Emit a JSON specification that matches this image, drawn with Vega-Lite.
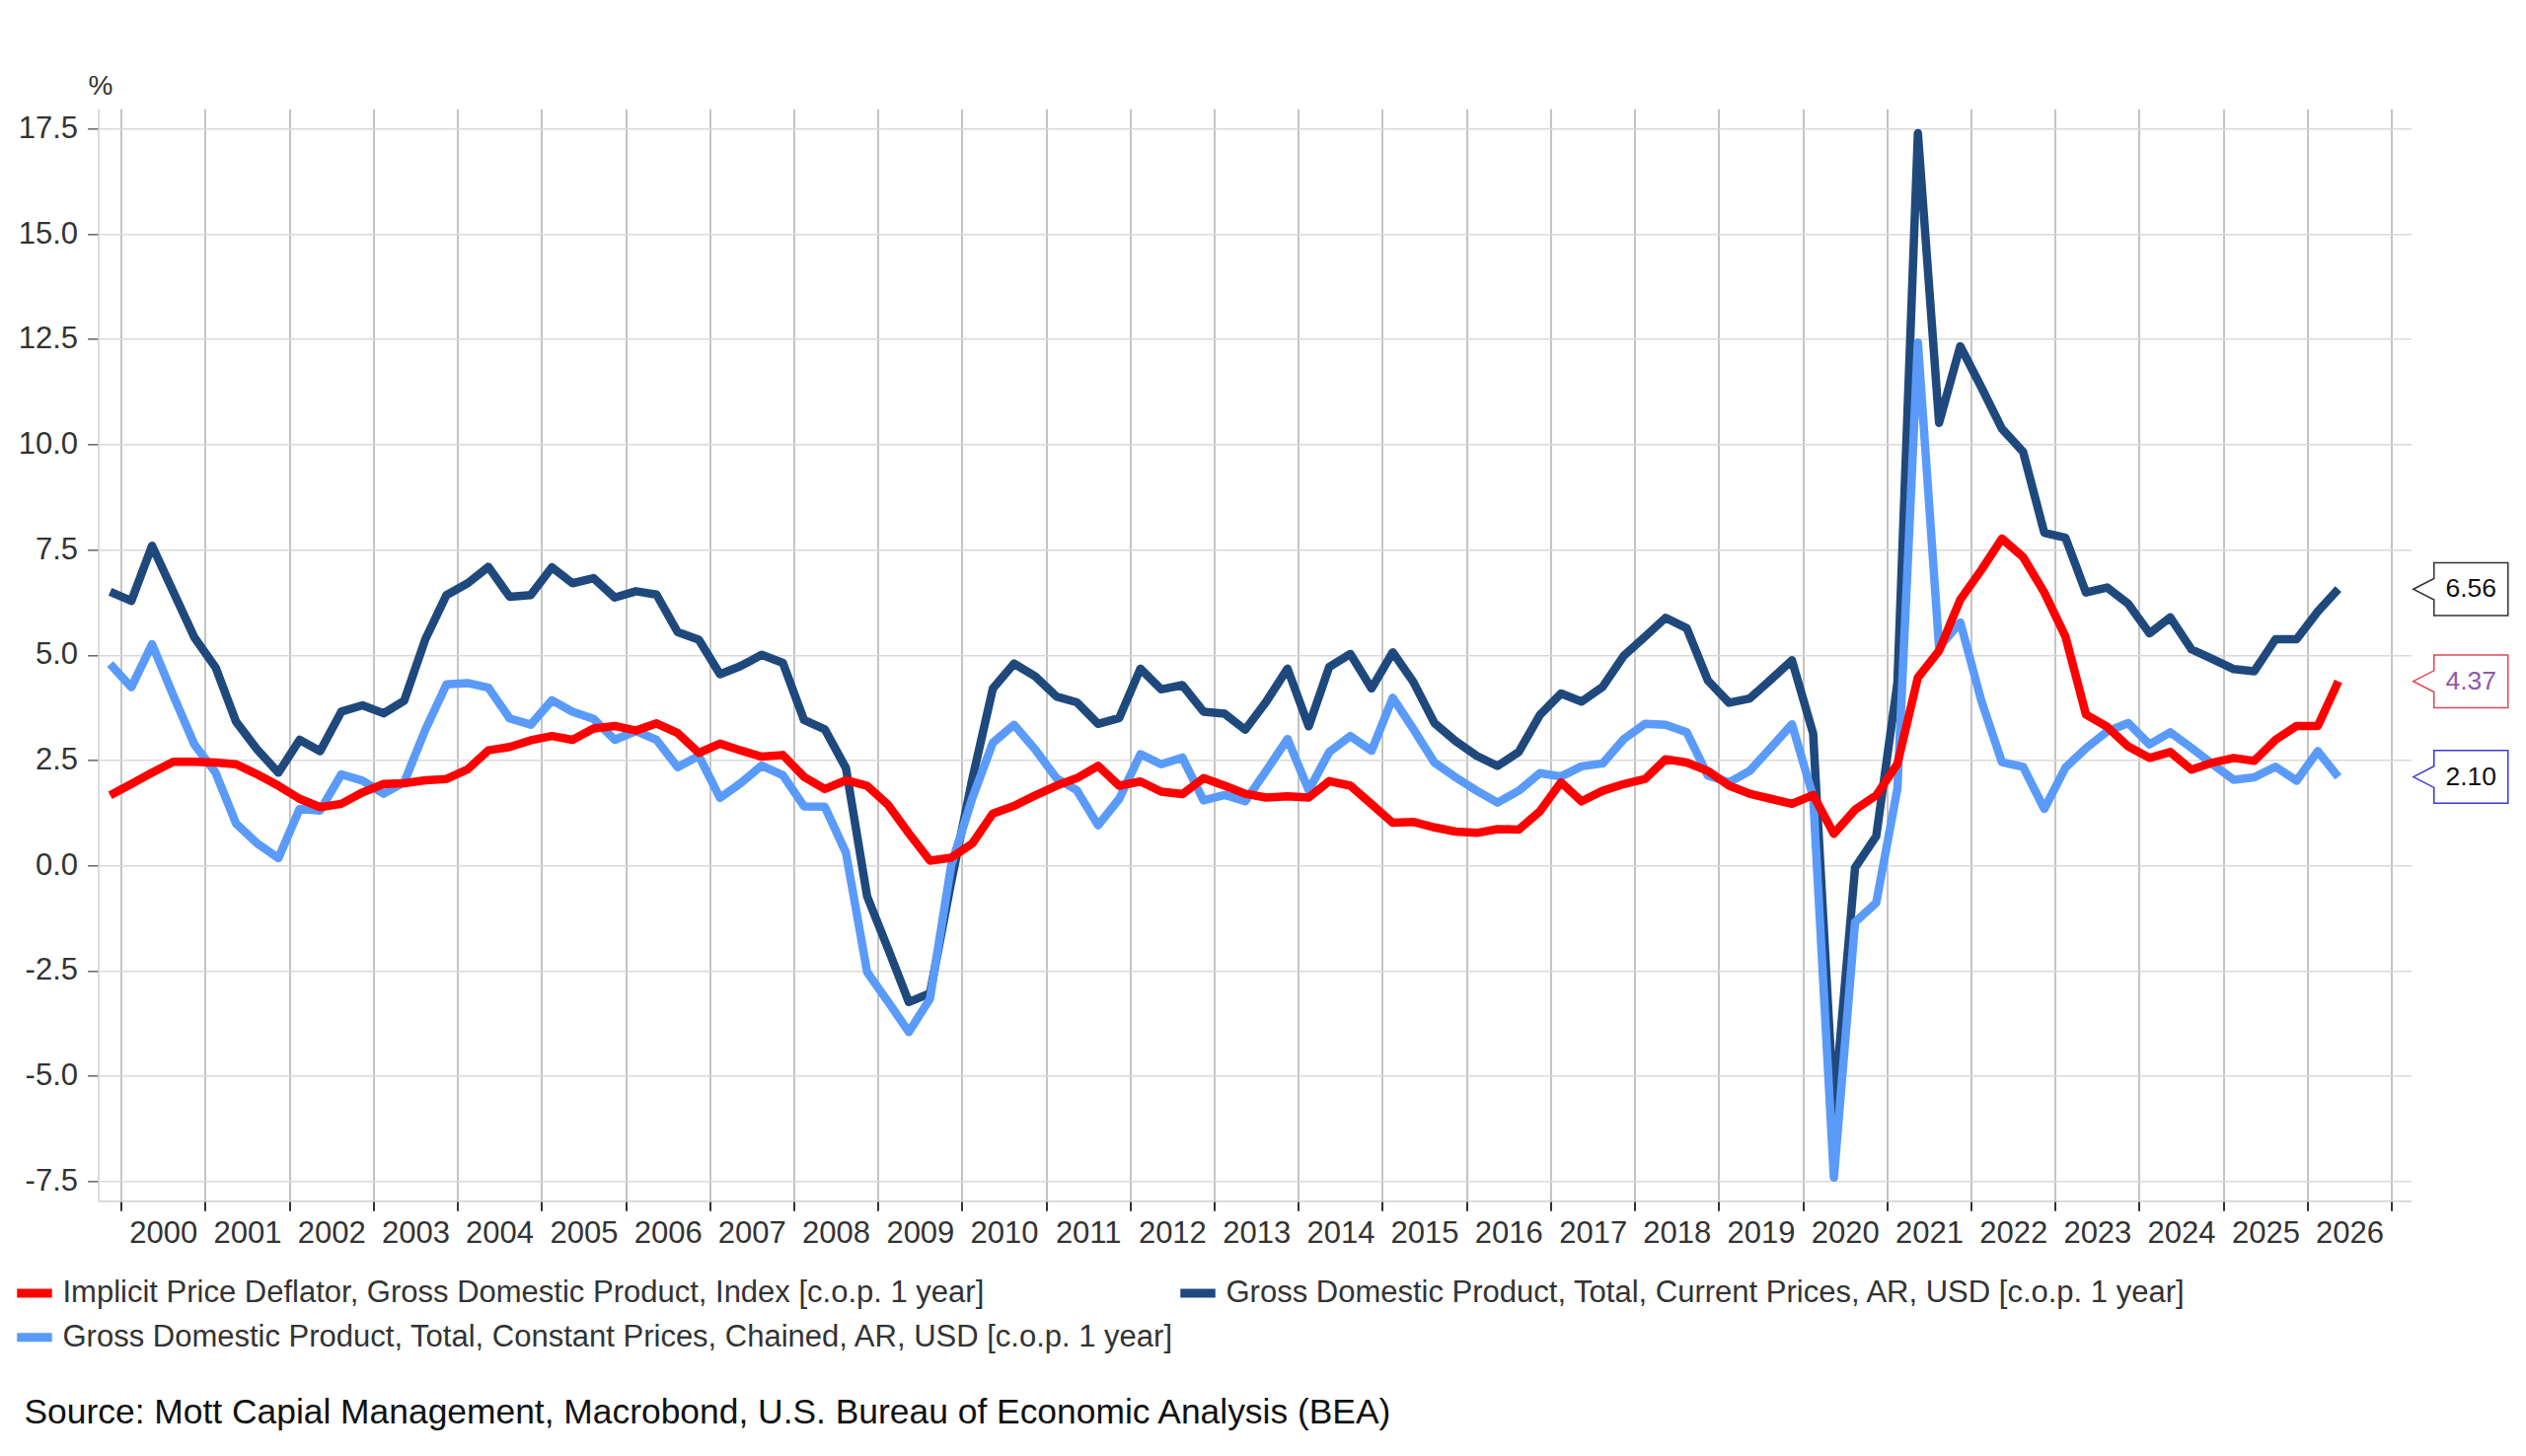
{
  "$schema": "https://vega.github.io/schema/vega-lite/v6.json",
  "width": 2344,
  "height": 1107,
  "autosize": {"type": "none"},
  "padding": {"left": 99.5, "top": 110.3, "right": 116.5, "bottom": 258.7},
  "background": "white",
  "title": {
    "text": "Source: Mott Capial Management, Macrobond, U.S. Bureau of Economic Analysis (BEA)",
    "orient": "bottom",
    "anchor": "start",
    "frame": "group",
    "dx": -75,
    "offset": 41,
    "fontSize": 35.4,
    "fontWeight": "normal",
    "font": "Liberation Sans",
    "color": "#111111"
  },
  "data": {
    "values": [
      {"d": "1999-11-15", "nom": 6.50, "real": 4.78, "defl": 1.66},
      {"d": "2000-02-15", "nom": 6.28, "real": 4.23, "defl": 1.93},
      {"d": "2000-05-15", "nom": 7.59, "real": 5.25, "defl": 2.20},
      {"d": "2000-08-15", "nom": 6.50, "real": 4.04, "defl": 2.46},
      {"d": "2000-11-15", "nom": 5.41, "real": 2.87, "defl": 2.46},
      {"d": "2001-02-15", "nom": 4.70, "real": 2.20, "defl": 2.44},
      {"d": "2001-05-15", "nom": 3.41, "real": 0.99, "defl": 2.40},
      {"d": "2001-08-15", "nom": 2.75, "real": 0.52, "defl": 2.16},
      {"d": "2001-11-15", "nom": 2.20, "real": 0.17, "defl": 1.89},
      {"d": "2002-02-15", "nom": 2.98, "real": 1.34, "defl": 1.58},
      {"d": "2002-05-15", "nom": 2.71, "real": 1.30, "defl": 1.38},
      {"d": "2002-08-15", "nom": 3.65, "real": 2.16, "defl": 1.46},
      {"d": "2002-11-15", "nom": 3.80, "real": 2.01, "defl": 1.73},
      {"d": "2003-02-15", "nom": 3.61, "real": 1.70, "defl": 1.93},
      {"d": "2003-05-15", "nom": 3.91, "real": 1.97, "defl": 1.95},
      {"d": "2003-08-15", "nom": 5.37, "real": 3.22, "defl": 2.02},
      {"d": "2003-11-15", "nom": 6.42, "real": 4.30, "defl": 2.05},
      {"d": "2004-02-15", "nom": 6.70, "real": 4.33, "defl": 2.28},
      {"d": "2004-05-15", "nom": 7.09, "real": 4.22, "defl": 2.73},
      {"d": "2004-08-15", "nom": 6.38, "real": 3.49, "defl": 2.81},
      {"d": "2004-11-15", "nom": 6.42, "real": 3.34, "defl": 2.97},
      {"d": "2005-02-15", "nom": 7.08, "real": 3.92, "defl": 3.07},
      {"d": "2005-05-15", "nom": 6.70, "real": 3.65, "defl": 2.98},
      {"d": "2005-08-15", "nom": 6.82, "real": 3.48, "defl": 3.25},
      {"d": "2005-11-15", "nom": 6.36, "real": 2.98, "defl": 3.31},
      {"d": "2006-02-15", "nom": 6.51, "real": 3.19, "defl": 3.20},
      {"d": "2006-05-15", "nom": 6.43, "real": 2.98, "defl": 3.37},
      {"d": "2006-08-15", "nom": 5.54, "real": 2.33, "defl": 3.14},
      {"d": "2006-11-15", "nom": 5.36, "real": 2.60, "defl": 2.67},
      {"d": "2007-02-15", "nom": 4.54, "real": 1.60, "defl": 2.89},
      {"d": "2007-05-15", "nom": 4.73, "real": 1.95, "defl": 2.73},
      {"d": "2007-08-15", "nom": 5.00, "real": 2.37, "defl": 2.58},
      {"d": "2007-11-15", "nom": 4.81, "real": 2.14, "defl": 2.62},
      {"d": "2008-02-15", "nom": 3.45, "real": 1.40, "defl": 2.10},
      {"d": "2008-05-15", "nom": 3.23, "real": 1.39, "defl": 1.81},
      {"d": "2008-08-15", "nom": 2.31, "real": 0.30, "defl": 2.02},
      {"d": "2008-11-15", "nom": -0.74, "real": -2.54, "defl": 1.89},
      {"d": "2009-02-15", "nom": -2.00, "real": -3.25, "defl": 1.43},
      {"d": "2009-05-15", "nom": -3.25, "real": -3.96, "defl": 0.76},
      {"d": "2009-08-15", "nom": -3.04, "real": -3.17, "defl": 0.11},
      {"d": "2009-11-15", "nom": -0.40, "real": 0.00, "defl": 0.18},
      {"d": "2010-02-15", "nom": 2.05, "real": 1.60, "defl": 0.52},
      {"d": "2010-05-15", "nom": 4.20, "real": 2.91, "defl": 1.23},
      {"d": "2010-08-15", "nom": 4.79, "real": 3.34, "defl": 1.41},
      {"d": "2010-11-15", "nom": 4.49, "real": 2.75, "defl": 1.66},
      {"d": "2011-02-15", "nom": 4.01, "real": 2.07, "defl": 1.89},
      {"d": "2011-05-15", "nom": 3.87, "real": 1.78, "defl": 2.07},
      {"d": "2011-08-15", "nom": 3.36, "real": 0.95, "defl": 2.36},
      {"d": "2011-11-15", "nom": 3.50, "real": 1.58, "defl": 1.89},
      {"d": "2012-02-15", "nom": 4.67, "real": 2.64, "defl": 1.99},
      {"d": "2012-05-15", "nom": 4.18, "real": 2.40, "defl": 1.75},
      {"d": "2012-08-15", "nom": 4.28, "real": 2.56, "defl": 1.69},
      {"d": "2012-11-15", "nom": 3.65, "real": 1.54, "defl": 2.07},
      {"d": "2013-02-15", "nom": 3.60, "real": 1.67, "defl": 1.89},
      {"d": "2013-05-15", "nom": 3.22, "real": 1.52, "defl": 1.70},
      {"d": "2013-08-15", "nom": 3.89, "real": 2.25, "defl": 1.61},
      {"d": "2013-11-15", "nom": 4.67, "real": 3.00, "defl": 1.64},
      {"d": "2014-02-15", "nom": 3.30, "real": 1.78, "defl": 1.61},
      {"d": "2014-05-15", "nom": 4.71, "real": 2.69, "defl": 2.00},
      {"d": "2014-08-15", "nom": 5.02, "real": 3.07, "defl": 1.89},
      {"d": "2014-11-15", "nom": 4.20, "real": 2.72, "defl": 1.45},
      {"d": "2015-02-15", "nom": 5.06, "real": 3.98, "defl": 1.01},
      {"d": "2015-05-15", "nom": 4.36, "real": 3.24, "defl": 1.03},
      {"d": "2015-08-15", "nom": 3.38, "real": 2.44, "defl": 0.90},
      {"d": "2015-11-15", "nom": 2.95, "real": 2.09, "defl": 0.80},
      {"d": "2016-02-15", "nom": 2.60, "real": 1.77, "defl": 0.77},
      {"d": "2016-05-15", "nom": 2.36, "real": 1.49, "defl": 0.86},
      {"d": "2016-08-15", "nom": 2.69, "real": 1.77, "defl": 0.85},
      {"d": "2016-11-15", "nom": 3.57, "real": 2.19, "defl": 1.28},
      {"d": "2017-02-15", "nom": 4.08, "real": 2.11, "defl": 1.97},
      {"d": "2017-05-15", "nom": 3.89, "real": 2.35, "defl": 1.52},
      {"d": "2017-08-15", "nom": 4.24, "real": 2.42, "defl": 1.77},
      {"d": "2017-11-15", "nom": 4.98, "real": 3.00, "defl": 1.93},
      {"d": "2018-02-15", "nom": 5.43, "real": 3.36, "defl": 2.05},
      {"d": "2018-05-15", "nom": 5.88, "real": 3.34, "defl": 2.52},
      {"d": "2018-08-15", "nom": 5.63, "real": 3.16, "defl": 2.44},
      {"d": "2018-11-15", "nom": 4.39, "real": 2.13, "defl": 2.24},
      {"d": "2019-02-15", "nom": 3.86, "real": 1.97, "defl": 1.89},
      {"d": "2019-05-15", "nom": 3.96, "real": 2.24, "defl": 1.70},
      {"d": "2019-08-15", "nom": 4.41, "real": 2.79, "defl": 1.58},
      {"d": "2019-11-15", "nom": 4.87, "real": 3.35, "defl": 1.46},
      {"d": "2020-02-15", "nom": 3.13, "real": 1.63, "defl": 1.67},
      {"d": "2020-05-15", "nom": -5.85, "real": -7.42, "defl": 0.75},
      {"d": "2020-08-15", "nom": -0.06, "real": -1.35, "defl": 1.32},
      {"d": "2020-11-15", "nom": 0.69, "real": -0.89, "defl": 1.66},
      {"d": "2021-02-15", "nom": 4.33, "real": 1.82, "defl": 2.41},
      {"d": "2021-05-15", "nom": 17.39, "real": 12.42, "defl": 4.46},
      {"d": "2021-08-15", "nom": 10.51, "real": 5.18, "defl": 5.10},
      {"d": "2021-11-15", "nom": 12.33, "real": 5.77, "defl": 6.31},
      {"d": "2022-02-15", "nom": 11.35, "real": 3.90, "defl": 7.02},
      {"d": "2022-05-15", "nom": 10.37, "real": 2.45, "defl": 7.76},
      {"d": "2022-08-15", "nom": 9.82, "real": 2.34, "defl": 7.32},
      {"d": "2022-11-15", "nom": 7.90, "real": 1.34, "defl": 6.48},
      {"d": "2023-02-15", "nom": 7.78, "real": 2.32, "defl": 5.43},
      {"d": "2023-05-15", "nom": 6.48, "real": 2.78, "defl": 3.58},
      {"d": "2023-08-15", "nom": 6.60, "real": 3.18, "defl": 3.29},
      {"d": "2023-11-15", "nom": 6.21, "real": 3.38, "defl": 2.82},
      {"d": "2024-02-15", "nom": 5.51, "real": 2.87, "defl": 2.55},
      {"d": "2024-05-15", "nom": 5.89, "real": 3.16, "defl": 2.69},
      {"d": "2024-08-15", "nom": 5.13, "real": 2.79, "defl": 2.27},
      {"d": "2024-11-15", "nom": 4.90, "real": 2.40, "defl": 2.44},
      {"d": "2025-02-15", "nom": 4.66, "real": 2.03, "defl": 2.55},
      {"d": "2025-05-15", "nom": 4.61, "real": 2.09, "defl": 2.48},
      {"d": "2025-08-15", "nom": 5.37, "real": 2.34, "defl": 2.98},
      {"d": "2025-11-15", "nom": 5.37, "real": 2.01, "defl": 3.31},
      {"d": "2026-02-15", "nom": 6.03, "real": 2.71, "defl": 3.31},
      {"d": "2026-05-15", "nom": 6.56, "real": 2.10, "defl": 4.37}
    ]
  },
  "transform": [
    {"fold": ["nom", "real", "defl"], "as": ["series", "value"]}
  ],
  "encoding": {
    "x": {
      "field": "d",
      "type": "temporal",
      "scale": {
        "type": "utc",
        "domain": [
          {"year": 1999, "month": 9, "date": 24, "utc": true},
          {"year": 2027, "month": 3, "date": 27, "utc": true}
        ]
      },
      "axis": {
        "title": null,
        "values": [
          {"year": 2000, "utc": true}, {"year": 2001, "utc": true}, {"year": 2002, "utc": true},
          {"year": 2003, "utc": true}, {"year": 2004, "utc": true}, {"year": 2005, "utc": true},
          {"year": 2006, "utc": true}, {"year": 2007, "utc": true}, {"year": 2008, "utc": true},
          {"year": 2009, "utc": true}, {"year": 2010, "utc": true}, {"year": 2011, "utc": true},
          {"year": 2012, "utc": true}, {"year": 2013, "utc": true}, {"year": 2014, "utc": true},
          {"year": 2015, "utc": true}, {"year": 2016, "utc": true}, {"year": 2017, "utc": true},
          {"year": 2018, "utc": true}, {"year": 2019, "utc": true}, {"year": 2020, "utc": true},
          {"year": 2021, "utc": true}, {"year": 2022, "utc": true}, {"year": 2023, "utc": true},
          {"year": 2024, "utc": true}, {"year": 2025, "utc": true}, {"year": 2026, "utc": true},
          {"year": 2027, "utc": true}
        ],
        "labelExpr": "utcyear(datum.value) > 2026 ? '' : utcFormat(datum.value, '%Y')",
        "labelOffset": 42.6,
        "labelPadding": 8,
        "labelFontSize": 31,
        "labelColor": "#333333",
        "labelFlush": false,
        "labelOverlap": false,
        "grid": true,
        "gridColor": "#c4c4c4",
        "gridWidth": 2,
        "tickColor": "#333333",
        "tickSize": 10,
        "tickWidth": 2,
        "domainColor": "#d0d0d0",
        "domainWidth": 1.5
      }
    },
    "y": {
      "field": "value",
      "type": "quantitative",
      "scale": {"domain": [-7.97, 17.97], "nice": false, "zero": false},
      "axis": {
        "title": "%",
        "titleAngle": 0,
        "titleX": 2,
        "titleY": -23,
        "titleAlign": "center",
        "titleBaseline": "middle",
        "titleFontSize": 28,
        "titleFontWeight": "normal",
        "titleColor": "#333333",
        "values": [-7.5, -5, -2.5, 0, 2.5, 5, 7.5, 10, 12.5, 15, 17.5],
        "labelExpr": "(datum.value < 0 ? '-' : '') + format(abs(datum.value), '.1f')",
        "labelFontSize": 31,
        "labelColor": "#333333",
        "labelPadding": 10,
        "grid": true,
        "gridColor": "#d9d9d9",
        "gridWidth": 1.5,
        "tickColor": "#666666",
        "tickSize": 11,
        "tickWidth": 1.5,
        "domainColor": "#d0d0d0",
        "domainWidth": 1.5
      }
    }
  },
  "layer": [
    {
      "mark": {"type": "line", "strokeWidth": 8.5, "strokeJoin": "round"},
      "encoding": {
        "color": {
          "field": "series",
          "type": "nominal",
          "scale": {
            "domain": ["defl", "nom", "real"],
            "range": ["#ff0000", "#1f497d", "#5a9bfa"]
          },
          "legend": {
            "title": null,
            "orient": "none",
            "legendX": -87,
            "legendY": 1178,
            "columns": 2,
            "direction": "horizontal",
            "padding": 0,
            "columnPadding": -13,
            "rowPadding": 4,
            "symbolType": "stroke",
            "symbolSize": 1260,
            "symbolStrokeWidth": 9,
            "labelFontSize": 31,
            "labelColor": "#333333",
            "labelOffset": 6,
            "labelLimit": 3000,
            "labelExpr": "datum.label == 'defl' ? 'Implicit Price Deflator, Gross Domestic Product, Index [c.o.p. 1 year]' : datum.label == 'nom' ? 'Gross Domestic Product, Total, Current Prices, AR, USD [c.o.p. 1 year]' : 'Gross Domestic Product, Total, Constant Prices, Chained, AR, USD [c.o.p. 1 year]'"
          }
        }
      }
    },
    {
      "transform": [{"filter": "utcyear(datum.d) == 2026 && utcmonth(datum.d) == 4"}],
      "mark": {
        "type": "point",
        "shape": "M7.6,0L9.7,-1.08L9.7,-2.67L17.2,-2.67L17.2,2.67L9.7,2.67L9.7,1.08Z",
        "size": 400,
        "filled": true,
        "fill": "white",
        "opacity": 1,
        "strokeWidth": 1.5
      },
      "encoding": {
        "stroke": {
          "field": "series",
          "type": "nominal",
          "scale": {"domain": ["defl", "nom", "real"], "range": ["#e0485c", "#333333", "#3b3bd6"]},
          "legend": null
        }
      }
    },
    {
      "transform": [{"filter": "utcyear(datum.d) == 2026 && utcmonth(datum.d) == 4"}],
      "mark": {"type": "text", "dx": 134.5, "align": "center", "baseline": "middle", "fontSize": 26.5},
      "encoding": {
        "text": {"field": "value", "type": "quantitative", "format": ".2f"},
        "fill": {
          "field": "series",
          "type": "nominal",
          "scale": {"domain": ["defl", "nom", "real"], "range": ["#9057b0", "#111111", "#111111"]},
          "legend": null
        }
      }
    }
  ],
  "config": {
    "view": {"stroke": null},
    "font": "Liberation Sans",
    "axis": {"labelFont": "Liberation Sans", "titleFont": "Liberation Sans"},
    "legend": {"labelFont": "Liberation Sans"}
  }
}
